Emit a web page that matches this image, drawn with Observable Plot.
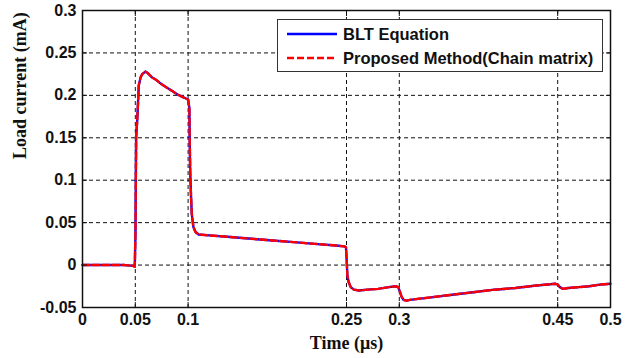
<!DOCTYPE html>
<html>
<head>
<meta charset="utf-8">
<script src="https://cdn.jsdelivr.net/npm/d3@7"></script>
<script src="https://cdn.jsdelivr.net/npm/@observablehq/plot@0.6"></script>
<style>
  html, body { margin: 0; padding: 0; background: #fff; }
  #wrap { position: relative; width: 636px; height: 358px; }
  #legend {
    position: absolute; left: 277px; top: 19px; width: 324px; height: 51px;
    border: 1.5px solid #333; background: #fff; box-sizing: content-box;
    font-family: "Liberation Sans", Arial, sans-serif; font-weight: bold; font-size: 16.5px; color: #111;
  }
  .row { position: absolute; left: 0; height: 20px; display: flex; align-items: center; }
  .row svg { margin-left: 9px; margin-right: 6px; }
</style>
</head>
<body>
<div id="wrap"></div>
<script>
const xTicks = [0, 0.05, 0.1, 0.25, 0.3, 0.45, 0.5];
const yTicks = [-0.05, 0, 0.05, 0.1, 0.15, 0.2, 0.25, 0.3];
const seriesNames = ["BLT Equation", "Proposed Method(Chain matrix)"];
const seriesColors = ["#0000ff", "#ff0000"];
const xLabel = "Time (\u03bcs)";
const yLabel = "Load current (mA)";

const time = [
  0, 0.02, 0.04, 0.048, 0.0495, 0.0502, 0.0505, 0.0508, 0.052, 0.0533, 0.055, 0.0565, 0.0595,
  0.062, 0.066, 0.07, 0.075, 0.08, 0.085, 0.09, 0.095, 0.0985, 0.1, 0.1012, 0.1015, 0.102,
  0.1028, 0.1035, 0.105, 0.107, 0.11, 0.12, 0.14, 0.16, 0.18, 0.2, 0.22, 0.24, 0.248, 0.2495,
  0.2502, 0.2508, 0.252, 0.254, 0.257, 0.262, 0.27, 0.28, 0.29, 0.297, 0.299, 0.3005, 0.302,
  0.304, 0.307, 0.31, 0.33, 0.35, 0.37, 0.39, 0.41, 0.43, 0.448, 0.45, 0.452, 0.455, 0.46,
  0.47, 0.48, 0.49, 0.5
];
const bltCurrent = [
  0, 0, 0, -0.001, -0.002, 0.04, 0.1, 0.15, 0.175, 0.212, 0.221, 0.225, 0.228,
  0.226, 0.221, 0.218, 0.213, 0.209, 0.205, 0.201, 0.198, 0.196, 0.195, 0.185, 0.15, 0.11,
  0.08, 0.06, 0.045, 0.039, 0.036, 0.035, 0.033, 0.031, 0.029, 0.027, 0.025, 0.023, 0.022, 0.021,
  0.005, -0.012, -0.02, -0.026, -0.029, -0.030, -0.029, -0.028, -0.026, -0.025, -0.026, -0.031, -0.037,
  -0.041, -0.042, -0.041, -0.038, -0.035, -0.032, -0.029, -0.027, -0.024, -0.022, -0.023, -0.026, -0.028, -0.027,
  -0.026, -0.025, -0.023, -0.022
];
const chainCurrent = [
  0, 0, 0, -0.001, -0.002, 0.04, 0.1, 0.15, 0.175, 0.212, 0.221, 0.225, 0.228,
  0.226, 0.221, 0.218, 0.213, 0.209, 0.205, 0.201, 0.198, 0.196, 0.195, 0.185, 0.15, 0.11,
  0.08, 0.06, 0.045, 0.039, 0.036, 0.035, 0.033, 0.031, 0.029, 0.027, 0.025, 0.023, 0.022, 0.021,
  0.005, -0.012, -0.02, -0.026, -0.029, -0.030, -0.029, -0.028, -0.026, -0.025, -0.026, -0.031, -0.037,
  -0.041, -0.042, -0.041, -0.038, -0.035, -0.032, -0.029, -0.027, -0.024, -0.022, -0.023, -0.026, -0.028, -0.027,
  -0.026, -0.025, -0.023, -0.022
];

const blt = time.map((t, i) => ({t, v: bltCurrent[i]}));
const chain = time.map((t, i) => ({t, v: chainCurrent[i]}));
const fmt = d => String(d);
const tickFont = {fontFamily: "Liberation Sans, Arial, sans-serif", fontSize: 16, fontWeight: "bold"};
const labelFont = {fontFamily: "Liberation Serif, Times New Roman, serif", fontSize: 18, fontWeight: "bold", fill: "#111"};

const chart = Plot.plot({
  width: 636, height: 358,
  marginLeft: 82, marginRight: 26, marginTop: 10, marginBottom: 51,
  style: {background: "#fff", color: "#111"},
  x: {domain: [0, 0.5], ticks: xTicks},
  y: {domain: [-0.05, 0.3], ticks: yTicks},
  marks: [
    Plot.ruleX(xTicks, {stroke: "#111", strokeWidth: 1, strokeDasharray: "4,3"}),
    Plot.ruleY(yTicks, {stroke: "#111", strokeWidth: 1, strokeDasharray: "4,3"}),
    Plot.lineY(blt, {x: "t", y: "v", stroke: seriesColors[0], strokeWidth: 2.4}),
    Plot.lineY(chain, {x: "t", y: "v", stroke: seriesColors[1], strokeWidth: 2.4, strokeDasharray: "7,3"}),
    Plot.axisX({ticks: xTicks, tickSize: -5, tickPadding: 11, tickFormat: fmt, label: null, ...tickFont}),
    Plot.axisX({anchor: "top", ticks: xTicks, tickSize: -5, tickFormat: () => "", label: null}),
    Plot.axisY({ticks: yTicks, tickSize: -5, tickPadding: 11, tickFormat: fmt, label: null, ...tickFont}),
    Plot.axisY({anchor: "right", ticks: yTicks, tickSize: -5, tickFormat: () => "", label: null}),
    Plot.frame({stroke: "#111", strokeWidth: 1.5}),
    Plot.text([xLabel], {frameAnchor: "bottom", dy: 36, lineAnchor: "middle", text: d => d, ...labelFont}),
    Plot.text([yLabel], {frameAnchor: "left", dx: -62, rotate: -90, lineAnchor: "middle", text: d => d, ...labelFont})
  ]
});

const wrap = document.getElementById("wrap");
wrap.appendChild(chart);

const legend = document.createElement("div");
legend.id = "legend";
const rowTops = [4, 28];
seriesNames.forEach((name, i) => {
  const row = document.createElement("div");
  row.className = "row";
  row.style.top = rowTops[i] + "px";
  const dash = i === 1 ? ' stroke-dasharray="7,3"' : "";
  row.innerHTML = `<svg width="50" height="6"><line x1="0" x2="50" y1="3" y2="3" stroke="${seriesColors[i]}" stroke-width="2.5"${dash}/></svg><span>${name}</span>`;
  legend.appendChild(row);
});
wrap.appendChild(legend);
</script>
</body>
</html>
